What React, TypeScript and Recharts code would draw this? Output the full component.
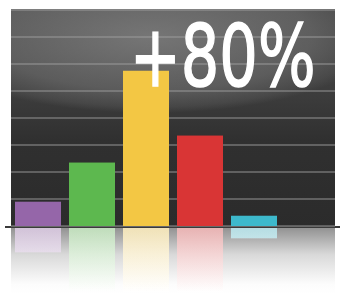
import React from 'react';
import { BarChart, Bar, XAxis, YAxis, CartesianGrid } from 'recharts';

const categories = ['A', 'B', 'C', 'D', 'E', 'F'];
const values = [0.9, 2.35, 5.75, 3.35, 0.38, 0];
const barColors = ['#9566a9', '#5db84f', '#f3c744', '#d93535', '#3db9cc', '#3db9cc'];
const gridTicks = [1, 2, 3, 4, 5, 6, 7];
const headline = '+80%';

const data = categories.map((c, i) => ({ name: c, value: values[i] }));

const W = 340;
const H = 294;
const M = { top: 10, right: 5, left: 11, bottom: 68 };

const BarWithReflection = (props: any) => {
  const { x, y, width, height, index } = props;
  if (!height || height <= 0) return null;
  const color = barColors[index];
  const base = y + height;
  const rh = Math.min(height, 64);
  const id = `refl-${index}`;
  return (
    <g>
      <defs>
        <linearGradient id={id} x1={0} y1={base + 2} x2={0} y2={base + 66} gradientUnits="userSpaceOnUse">
          <stop offset="0" stopColor={color} stopOpacity={0.32} />
          <stop offset="1" stopColor={color} stopOpacity={0} />
        </linearGradient>
        <linearGradient id={id + 'w'} x1={0} y1={base + 2} x2={0} y2={base + 66} gradientUnits="userSpaceOnUse">
          <stop offset="0" stopColor="#ffffff" stopOpacity={0.85} />
          <stop offset="1" stopColor="#ffffff" stopOpacity={0.9} />
        </linearGradient>
      </defs>
      <rect x={x} y={y} width={width} height={height} fill={color} />
      <rect x={x} y={base + 2} width={width} height={rh} fill={`url(#${id}w)`} />
      <rect x={x} y={base + 2} width={width} height={rh} fill={`url(#${id})`} />
    </g>
  );
};

export default function App() {
  const plotL = M.left;
  const plotR = W - M.right;
  const plotT = M.top;
  const plotB = H - M.bottom;
  return (
    <div style={{ position: 'absolute', left: 0, top: 0, width: W, height: H, background: '#ffffff', overflow: 'hidden' }}>
      {/* panel */}
      <div
        style={{
          position: 'absolute',
          left: plotL,
          top: plotT - 1,
          width: plotR - plotL,
          height: plotB - plotT + 2,
          background:
            'radial-gradient(ellipse 230px 76px at 140px 28px, rgba(130,130,130,0.8) 0%, rgba(112,112,112,0.6) 70%, rgba(90,90,90,0.4) 92%, rgba(60,60,60,0) 100%), linear-gradient(to bottom, #474747 0%, #3c3c3c 40%, #303030 60%, #2b2b2b 100%)',
        }}
      />
      {/* panel reflection */}
      <div
        style={{
          position: 'absolute',
          left: plotL,
          top: plotB + 2,
          width: plotR - plotL,
          height: H - plotB - 2,
          background: 'linear-gradient(to bottom, rgba(110,110,110,0.75) 0%, rgba(170,170,170,0.45) 40%, rgba(240,240,240,0.2) 85%, rgba(255,255,255,0) 100%)',
        }}
      />
      {/* baseline */}
      <div style={{ position: 'absolute', left: 5, top: plotB, width: W - 5, height: 2, background: '#3a3a3a' }} />
      <div style={{ position: 'absolute', left: 0, top: 0 }}>
        <BarChart width={W} height={H} data={data} margin={M} barSize={46}>
          <CartesianGrid horizontal={true} vertical={false} stroke="#a0a0a0" strokeWidth={1.6} strokeOpacity={0.6} />
          <XAxis dataKey="name" hide />
          <YAxis type="number" domain={[0, 8]} ticks={gridTicks} hide />
          <Bar dataKey="value" isAnimationActive={false} shape={<BarWithReflection />} />
        </BarChart>
      </div>
      <svg width={W} height={H} style={{ position: 'absolute', left: 0, top: 0, pointerEvents: 'none' }}>
        <g transform="translate(130,86) scale(0.705,1)">
          <text
            x={0}
            y={0}
            fill="#ffffff"
            stroke="#ffffff"
            strokeWidth={1.6}
            fontFamily="'DejaVu Sans', sans-serif"
            fontSize={86}
          >
            {headline}
          </text>
        </g>
      </svg>
    </div>
  );
}
